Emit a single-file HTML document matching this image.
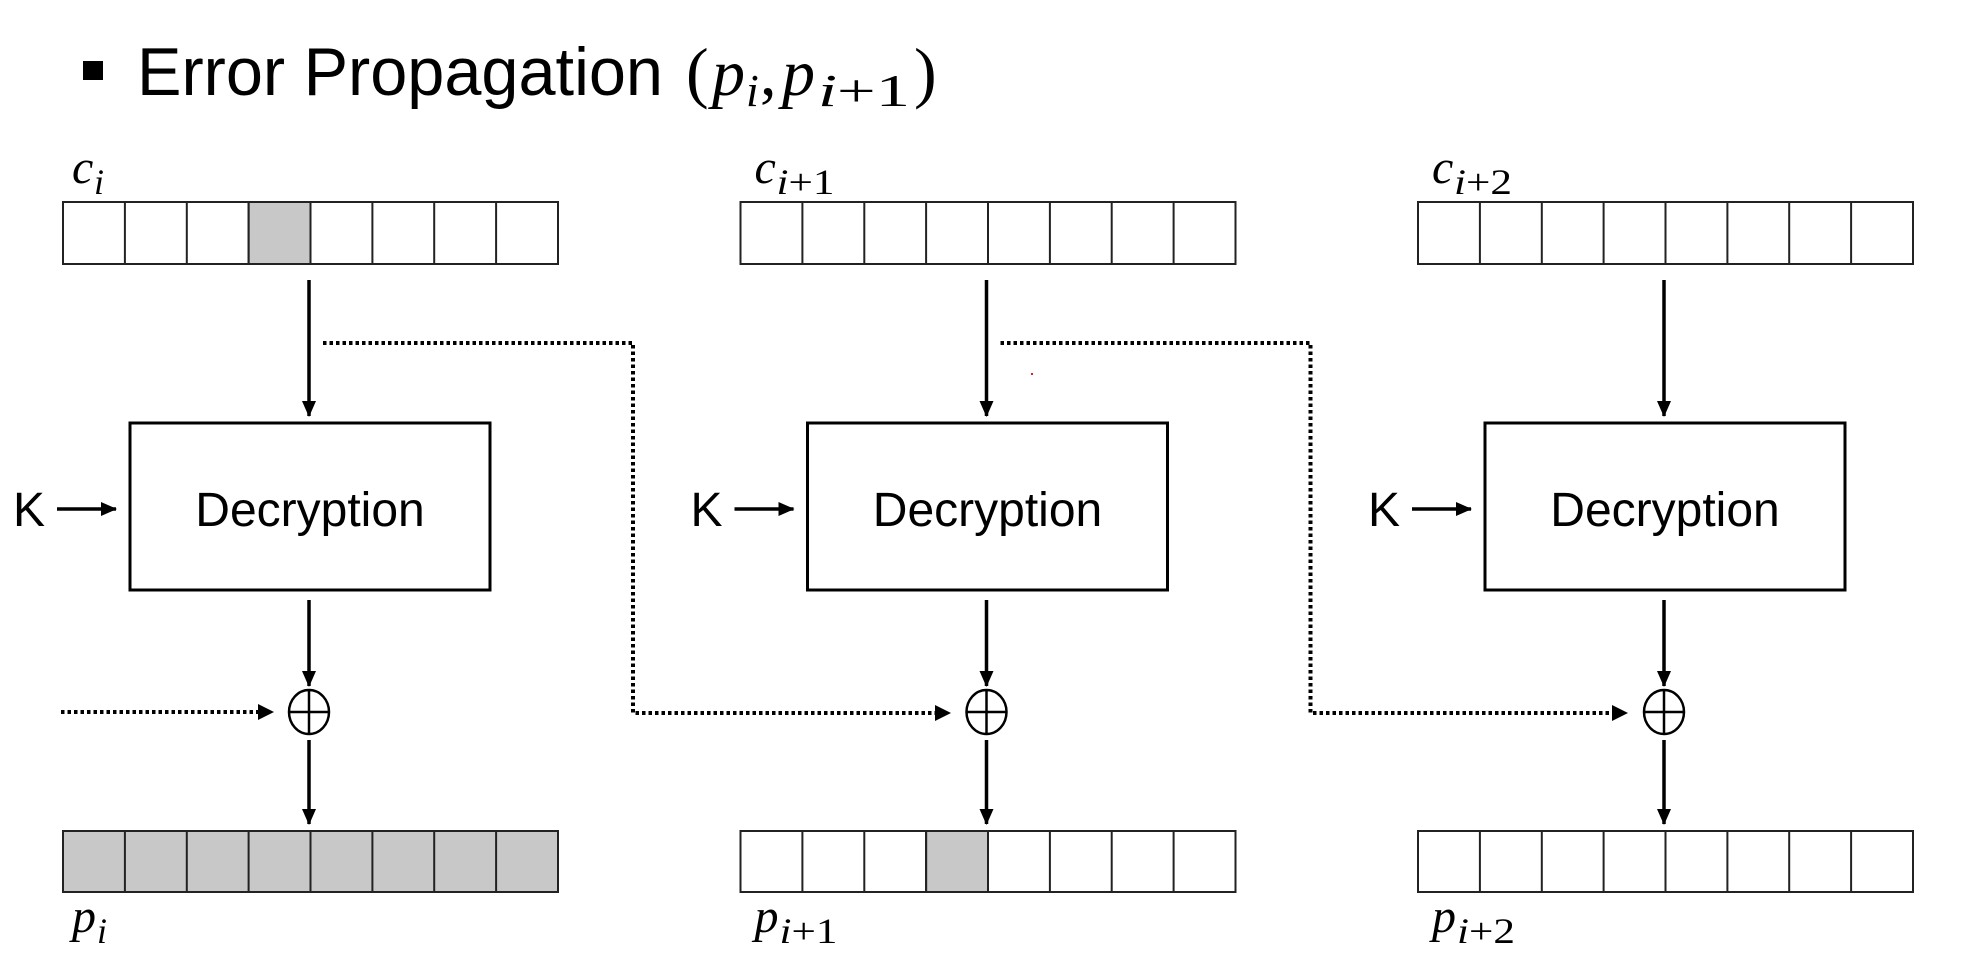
<!DOCTYPE html>
<html><head><meta charset="utf-8"><style>
html,body{margin:0;padding:0;background:#fff;}
svg{display:block;}
</style></head><body>
<svg width="1976" height="966" viewBox="0 0 1976 966" xmlns="http://www.w3.org/2000/svg">
<defs>
<marker id="ah2" markerWidth="16" markerHeight="16" refX="15" refY="8" orient="auto" markerUnits="userSpaceOnUse">
<path d="M0,1 L16,8 L0,15 z" fill="#000"/>
</marker>
<g id="cells">
<line x1="124.9" y1="0" x2="124.9" y2="62"/><line x1="186.8" y1="0" x2="186.8" y2="62"/><line x1="248.6" y1="0" x2="248.6" y2="62"/><line x1="310.5" y1="0" x2="310.5" y2="62"/><line x1="372.4" y1="0" x2="372.4" y2="62"/><line x1="434.2" y1="0" x2="434.2" y2="62"/><line x1="496.1" y1="0" x2="496.1" y2="62"/>
</g>
<g id="core">
<rect x="130" y="423" width="360" height="167" fill="none" stroke="#000" stroke-width="3"/>
<text x="310" y="526" text-anchor="middle" font-family="Liberation Sans, sans-serif" font-size="48">Decryption</text>
<text x="13" y="526" font-family="Liberation Sans, sans-serif" font-size="48">K</text>
<line x1="57" y1="509" x2="116" y2="509" stroke="#000" stroke-width="3.5" marker-end="url(#ah2)"/>
<g stroke="#000" stroke-width="3.5">
<line x1="309" y1="280" x2="309" y2="416" marker-end="url(#ah2)"/>
<line x1="309" y1="600" x2="309" y2="686" marker-end="url(#ah2)"/>
<line x1="309" y1="740" x2="309" y2="824" marker-end="url(#ah2)"/>
</g>
<ellipse cx="309" cy="712" rx="20" ry="22" fill="none" stroke="#000" stroke-width="2.5"/>
<line x1="289" y1="712" x2="329" y2="712" stroke="#000" stroke-width="2.5"/>
<line x1="309" y1="690" x2="309" y2="734" stroke="#000" stroke-width="2.5"/>
</g>
</defs>
<rect x="83" y="61" width="20" height="19" fill="#000"/>
<text x="137" y="95" font-family="Liberation Sans, sans-serif" font-size="68" textLength="526" lengthAdjust="spacingAndGlyphs">Error Propagation</text>
<text x="686" y="95" font-family="Liberation Serif, serif" font-size="68">(</text>
<text x="712" y="95" font-family="Liberation Serif, serif" font-style="italic" font-size="66">p</text>
<text x="746" y="106" font-family="Liberation Serif, serif" font-style="italic" font-size="46">i</text>
<text x="760" y="95" font-family="Liberation Serif, serif" font-size="66">,</text>
<text x="782" y="95" font-family="Liberation Serif, serif" font-style="italic" font-size="66">p</text>
<text x="818" y="106" font-family="Liberation Serif, serif" font-size="46" textLength="92" lengthAdjust="spacingAndGlyphs"><tspan font-style="italic">i</tspan>+1</text>
<text x="914" y="95" font-family="Liberation Serif, serif" font-size="68">)</text>

<g>
<g stroke="#222" stroke-width="2" fill="#fff">
<rect x="63" y="202" width="495" height="62"/>
<rect x="248.6" y="202" width="61.9" height="62" fill="#c8c8c8"/>
<use href="#cells" y="202"/>
<rect x="63" y="831" width="495" height="61" fill="#c8c8c8"/>
<use href="#cells" y="831"/>
</g>
<use href="#core"/>
<text x="72" y="183" font-family="Liberation Serif, serif" font-style="italic" font-size="48">c</text>
<text x="94" y="194" font-family="Liberation Serif, serif" font-style="italic" font-size="36">i</text>
<text x="72" y="932" font-family="Liberation Serif, serif" font-style="italic" font-size="48">p</text>
<text x="97" y="943" font-family="Liberation Serif, serif" font-style="italic" font-size="36">i</text>
</g>

<g transform="translate(677.5,0)">
<g stroke="#222" stroke-width="2" fill="#fff">
<rect x="63" y="202" width="495" height="62"/>
<use href="#cells" y="202"/>
<rect x="63" y="831" width="495" height="61"/>
<rect x="248.6" y="831" width="61.9" height="61" fill="#c8c8c8"/>
<use href="#cells" y="831"/>
</g>
<use href="#core"/>
<text x="77" y="183" font-family="Liberation Serif, serif" font-style="italic" font-size="48">c</text>
<text x="99" y="194" font-family="Liberation Serif, serif" font-size="36" textLength="58" lengthAdjust="spacingAndGlyphs"><tspan font-style="italic">i</tspan>+1</text>
<text x="77" y="932" font-family="Liberation Serif, serif" font-style="italic" font-size="48">p</text>
<text x="102" y="943" font-family="Liberation Serif, serif" font-size="36" textLength="58" lengthAdjust="spacingAndGlyphs"><tspan font-style="italic">i</tspan>+1</text>
</g>

<g transform="translate(1355,0)">
<g stroke="#222" stroke-width="2" fill="#fff">
<rect x="63" y="202" width="495" height="62"/>
<use href="#cells" y="202"/>
<rect x="63" y="831" width="495" height="61"/>
<use href="#cells" y="831"/>
</g>
<use href="#core"/>
<text x="77" y="183" font-family="Liberation Serif, serif" font-style="italic" font-size="48">c</text>
<text x="99" y="194" font-family="Liberation Serif, serif" font-size="36" textLength="58" lengthAdjust="spacingAndGlyphs"><tspan font-style="italic">i</tspan>+2</text>
<text x="77" y="932" font-family="Liberation Serif, serif" font-style="italic" font-size="48">p</text>
<text x="102" y="943" font-family="Liberation Serif, serif" font-size="36" textLength="58" lengthAdjust="spacingAndGlyphs"><tspan font-style="italic">i</tspan>+2</text>
</g>

<g fill="none" stroke="#000" stroke-width="4" stroke-dasharray="3.5,3">
<line x1="61" y1="712" x2="262" y2="712"/>
<polyline points="323,343 633,343 633,713 938,713"/>
<polyline points="1000.5,343 1310.5,343 1310.5,713 1615,713"/>
</g>
<path d="M258,704 L274,712 L258,720 z" fill="#000"/>
<path d="M935,705 L951,713 L935,721 z" fill="#000"/>
<path d="M1612,705 L1628,713 L1612,721 z" fill="#000"/>
<rect x="1031" y="373" width="2" height="2" fill="#e02020"/>
</svg>
</body></html>
